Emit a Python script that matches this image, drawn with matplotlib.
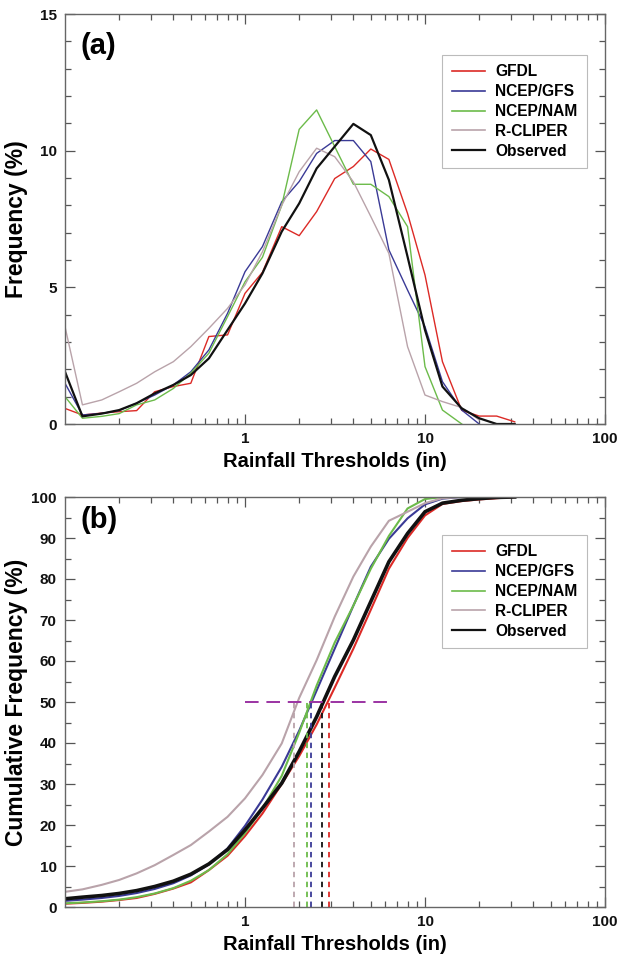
import numpy as np
import matplotlib
matplotlib.use('Agg')
import matplotlib.pyplot as plt
from matplotlib.ticker import LogLocator, MultipleLocator, NullFormatter

plt.rcParams['font.family'] = ['Liberation Sans', 'DejaVu Sans']
plt.rcParams['font.weight'] = 'bold'
plt.rcParams['axes.labelweight'] = 'bold'

# rainfall thresholds (in)
thresholds = [0.1, 0.125, 0.16, 0.2, 0.25, 0.315, 0.4, 0.5, 0.63, 0.8, 1.0, 1.25, 1.6,
              2.0, 2.5, 3.15, 4.0, 5.0, 6.3, 8.0, 10.0, 12.5, 16.0, 20.0, 25.0, 31.5]

labels = ['GFDL', 'NCEP/GFS', 'NCEP/NAM', 'R-CLIPER', 'Observed']
colors = ['#dc2a26', '#3a3a96', '#6cbb4a', '#b9a3aa', '#111111']

# (a) frequency (%)
gfdl_freq = [0.57, 0.33, 0.40, 0.45, 0.49, 1.18, 1.37, 1.49, 3.2, 3.26, 4.78, 5.55, 7.22,
             6.89, 7.77, 8.98, 9.42, 10.06, 9.68, 7.7, 5.45, 2.28, 0.5, 0.29, 0.29, 0.08]
gfs_freq = [1.49, 0.33, 0.39, 0.49, 0.76, 1.06, 1.43, 1.91, 2.71, 4.05, 5.57, 6.49, 8.13,
            8.87, 9.9, 10.37, 10.37, 9.6, 6.37, 4.9, 3.56, 1.55, 0.51, 0.0]
nam_freq = [1.0, 0.21, 0.28, 0.38, 0.7, 0.88, 1.3, 1.86, 2.59, 3.93, 5.2, 6.1, 8.0,
            10.78, 11.49, 10.15, 8.77, 8.77, 8.32, 7.22, 2.1, 0.51, 0.0]
rcliper_freq = [3.56, 0.7, 0.88, 1.18, 1.49, 1.91, 2.28, 2.83, 3.5, 4.23, 5.09, 6.3, 8.0,
                9.23, 10.09, 9.78, 8.86, 7.59, 6.24, 2.83, 1.06, 0.82, 0.6, 0.15]
obs_freq = [1.91, 0.28, 0.38, 0.51, 0.76, 1.12, 1.43, 1.79, 2.4, 3.44, 4.41, 5.51, 7.04,
            8.07, 9.35, 10.15, 10.98, 10.57, 8.93, 6.12, 3.44, 1.37, 0.57, 0.21, 0.0, 0.0]

# (b) cumulative frequency (%)
gfdl_cum = [0.8, 1.0, 1.3, 1.7, 2.2, 3.2, 4.5, 6.0, 9.0, 12.5, 17.3, 22.8, 30.0,
            36.8, 44.5, 53.5, 63.0, 72.5, 82.5, 90.0, 95.5, 98.3, 99.0, 99.4, 99.7, 100.0]
gfs_cum = [1.5, 1.8, 2.2, 2.7, 3.4, 4.4, 5.8, 7.7, 10.4, 14.3, 19.8, 26.2, 34.2,
           43.0, 52.8, 63.0, 73.5, 83.0, 89.8, 94.8, 98.2, 99.6, 100.0, 100.0]
nam_cum = [0.9, 1.1, 1.4, 1.8, 2.4, 3.3, 4.6, 6.4, 9.0, 12.9, 18.0, 24.0, 32.0,
           42.5, 54.0, 64.5, 73.5, 82.5, 90.5, 97.2, 99.5, 100.0, 100.0]
rcliper_cum = [3.7, 4.3, 5.4, 6.6, 8.2, 10.2, 12.7, 15.1, 18.4, 22.0, 26.5, 32.2, 39.9,
               51.0, 60.2, 70.8, 80.6, 87.9, 94.2, 96.4, 98.5, 99.7, 100.0, 100.0]
obs_cum = [2.0, 2.4, 2.8, 3.3, 4.0, 5.0, 6.3, 8.0, 10.5, 14.0, 18.8, 24.1, 30.2,
           37.9, 46.4, 56.2, 65.1, 74.5, 84.2, 91.1, 96.4, 98.5, 99.2, 99.6, 99.9, 100.0]

# 50% thresholds (in), same order as labels
median_thresholds = [2.93, 2.33, 2.2, 1.87, 2.68]
median_line = [1.0, 6.2]

freq_series = [gfdl_freq, gfs_freq, nam_freq, rcliper_freq, obs_freq]
cum_series = [gfdl_cum, gfs_cum, nam_cum, rcliper_cum, obs_cum]


def style_axis(ax, ymax, major, minor, ylabel):
    ax.set_xscale('log')
    ax.set_xlim(0.1, 100)
    ax.set_ylim(0, ymax)
    ax.set_xticks([1, 10, 100])
    ax.set_xticklabels(['1', '10', '100'])
    ax.xaxis.set_minor_locator(LogLocator(base=10, subs=np.arange(2, 10), numticks=20))
    ax.xaxis.set_minor_formatter(NullFormatter())
    ax.yaxis.set_major_locator(MultipleLocator(major))
    ax.yaxis.set_minor_locator(MultipleLocator(minor))
    ax.tick_params(which='both', direction='in', top=True, right=True,
                   colors='#555555', labelcolor='#111111', labelsize=11, width=0.9)
    ax.tick_params(which='major', length=7, pad=6)
    ax.tick_params(which='minor', length=4.5)
    for sp in ax.spines.values():
        sp.set_color('#666666')
        sp.set_linewidth(1.0)
    ax.set_xlabel('Rainfall Thresholds (in)', fontsize=14.5, labelpad=4)
    ax.set_ylabel(ylabel, fontsize=16.5, va='center')
    ax.yaxis.set_label_coords(-0.089, 0.5)


fig = plt.figure(figsize=(6.17, 9.55), dpi=100)
ax1 = fig.add_axes([65 / 617, 1 - 424 / 955, 540 / 617, 410 / 955])
ax2 = fig.add_axes([65 / 617, 1 - 907 / 955, 540 / 617, 410 / 955])

for vals, lab, col in zip(freq_series, labels, colors):
    lw = 1.6 if lab == 'Observed' else 1.0
    ax1.plot(thresholds[:len(vals)], vals, color=col, lw=lw, label=lab)

for vals, lab, col in zip(cum_series, labels, colors):
    lw = 2.6 if lab == 'Observed' else 1.5
    ax2.plot(thresholds[:len(vals)], vals, color=col, lw=lw, label=lab)

# median markers
ax2.plot(median_line, [50, 50], color='#9b33a3', lw=1.4, dashes=(7, 4))
for xm, col in zip(median_thresholds, colors):
    ax2.plot([xm, xm], [0, 50], color=col, lw=1.3, dashes=(3, 2.5))

style_axis(ax1, 15, 5, 1, 'Frequency (%)')
style_axis(ax2, 100, 10, 5, 'Cumulative Frequency (%)')

ax1.text(0.028, 0.922, '(a)', transform=ax1.transAxes, fontsize=21, va='center')
ax2.text(0.028, 0.944, '(b)', transform=ax2.transAxes, fontsize=21, va='center')

for ax, ytop in [(ax1, 0.9), (ax2, 0.907)]:
    leg = ax.legend(loc='upper right', bbox_to_anchor=(0.966, ytop), fontsize=11.2,
                    frameon=True, fancybox=False, handlelength=2.15, handletextpad=0.65,
                    borderpad=0.6, labelspacing=0.31, borderaxespad=0)
    leg.get_frame().set_edgecolor('#aaaaaa')
    leg.get_frame().set_linewidth(0.8)
    for h in leg.get_lines():
        h.set_linewidth(1.6 if h.get_label() == 'Observed' else 1.2)

fig.savefig('out.png', dpi=100)
